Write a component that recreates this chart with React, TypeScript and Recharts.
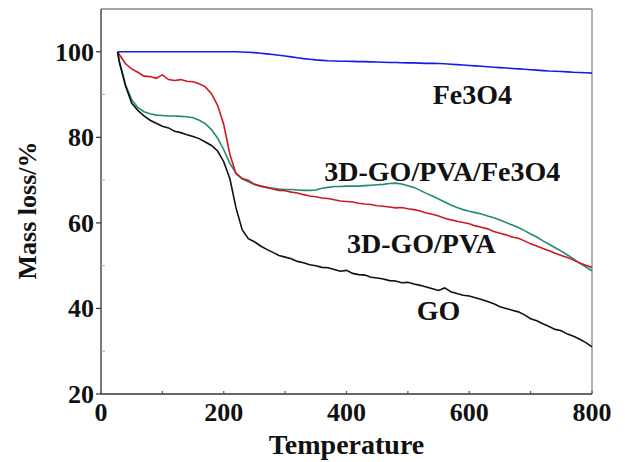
import { LineChart, Line, XAxis, YAxis, ReferenceLine, ReferenceDot } from 'recharts';

// temperature grid (°C), shared by all four TGA curves
const temps = [
  27, 30, 40, 50, 60, 70, 80, 90, 100, 110,
  120, 130, 140, 150, 160, 170, 180, 190, 200, 210,
  220, 230, 240, 250, 260, 270, 280, 290, 300, 310,
  320, 330, 340, 350, 360, 370, 380, 390, 400, 410,
  420, 430, 440, 450, 460, 470, 480, 490, 500, 510,
  520, 530, 540, 550, 560, 570, 580, 590, 600, 610,
  620, 630, 640, 650, 660, 670, 680, 690, 700, 710,
  720, 730, 740, 750, 760, 770, 780, 790, 800,
];

const go = [
  100, 97.5, 92, 88, 86.3, 85, 84, 83.3, 82.6, 82.2,
  81.4, 81.1, 80.6, 80.2, 79.7, 78.9, 78.1, 76.8, 74.3, 70.3,
  63.5, 58.4, 56.3, 55.6, 54.6, 53.8, 53.1, 52.4, 52.0, 51.6,
  51.0, 50.7, 50.2, 50.0, 49.6, 49.5, 49.1, 48.7, 48.9, 48.2,
  47.9, 47.8, 47.3, 47.1, 46.9, 46.5, 46.4, 46.0, 46.1, 45.7,
  45.4, 45.0, 44.6, 44.2, 44.8, 43.9, 43.5, 43.1, 42.9, 42.5,
  42.1, 41.6, 41.1, 40.4, 40.0, 39.6, 39.2, 38.5, 37.6, 37.1,
  36.4, 35.8, 35.1, 34.8, 34.0, 33.5, 32.8, 32.0, 31.0,
];

const goPva = [
  100, 99.3, 97.2, 96, 95.2, 94.3, 94.2, 93.8, 94.6, 93.5,
  93.3, 93.5, 93.1, 93.0, 92.5, 91.8, 90.2, 87.5, 83.0, 76.0,
  71.5, 70.4, 70.0, 69.0, 68.6, 68.3, 67.9, 67.6, 67.5, 67.2,
  67.0, 66.6, 66.3, 66.1, 65.8, 65.7, 65.4, 65.1, 65.0, 64.9,
  64.6, 64.4, 64.3, 64.0, 63.9, 63.7, 63.5, 63.6, 63.3, 63.1,
  62.8, 62.3, 62.0, 61.6, 61.1, 60.7, 60.4, 60.1, 59.8, 59.3,
  59.0, 58.6, 58.0, 57.6, 57.2, 56.7, 56.4, 55.8, 55.1, 54.6,
  54.0, 53.5, 52.9, 52.4, 51.9, 51.3, 50.6, 50.1, 49.6,
];

const goPvaFe = [
  100, 97.8, 92.3, 88.8, 87.0, 86.0, 85.5, 85.2, 85.1, 85.0,
  85.0, 84.9, 84.8, 84.6, 84.0, 83.2, 81.8, 79.8, 77.1, 73.9,
  71.6, 70.3, 69.6, 69.0, 68.6, 68.3, 68.1, 67.9, 67.8, 67.8,
  67.7, 67.6, 67.6, 67.7, 68.1, 68.3, 68.5, 68.5, 68.6, 68.6,
  68.6, 68.7, 68.8, 68.9, 69.0, 69.2, 69.3, 69.1, 68.7, 68.3,
  67.6, 66.9, 66.3, 65.6, 64.9, 64.2, 63.6, 63.1, 62.7, 62.4,
  62.1, 61.6, 61.2, 60.7, 60.1, 59.5, 58.9, 58.2, 57.4, 56.7,
  55.8, 55.0, 54.2, 53.4, 52.5, 51.6, 50.6, 49.7, 48.8,
];

const fe3o4 = [
  100, 100, 100, 100, 100, 100, 100, 100, 100, 100,
  100, 100, 100, 100, 100, 100, 100, 100, 100, 100,
  100, 99.95, 99.9, 99.8, 99.65, 99.5, 99.35, 99.2, 99.0, 98.8,
  98.6, 98.4, 98.25, 98.1, 98.0, 97.9, 97.85, 97.8, 97.8, 97.75,
  97.7, 97.7, 97.65, 97.6, 97.55, 97.5, 97.5, 97.45, 97.4, 97.4,
  97.35, 97.3, 97.3, 97.25, 97.2, 97.1, 97.0, 96.9, 96.8, 96.7,
  96.6, 96.5, 96.4, 96.3, 96.2, 96.1, 96.0, 95.9, 95.8, 95.7,
  95.6, 95.5, 95.45, 95.4, 95.3, 95.2, 95.15, 95.1, 95.0,
];

const xTicks = [0, 100, 200, 300, 400, 500, 600, 700, 800];
const yTicks = [20, 30, 40, 50, 60, 70, 80, 90, 100];

// curve labels: [text, temperature, mass]
const curveLabels: [string, number, number][] = [
  ['Fe3O4', 605, 90.2],
  ['3D-GO/PVA/Fe3O4', 556, 72.0],
  ['3D-GO/PVA', 522, 55.3],
  ['GO', 550, 39.7],
];

const data = temps.map((t, i) => ({
  t,
  go: go[i],
  goPva: goPva[i],
  goPvaFe: goPvaFe[i],
  fe3o4: fe3o4[i],
}));

const FONT = "'Liberation Serif', 'Times New Roman', Tinos, 'DejaVu Serif', serif";
const fontProps = { fontFamily: FONT, fontWeight: 700, fontSize: 26, fill: '#111' };
const bigFont = { ...fontProps, fontSize: 28 };

function YTick(props: any) {
  const { x, y, payload } = props;
  const major = payload.value % 20 === 0;
  if (!major) {
    return <line x1={x} x2={x + 4} y1={y} y2={y} stroke="#aaa" strokeWidth={1} />;
  }
  return (
    <g>
      <line x1={x - 5} x2={x} y1={y} y2={y} stroke="#333" strokeWidth={1.2} />
      <text x={x - 7} y={y + 9} textAnchor="end" {...fontProps}>
        {payload.value}
      </text>
    </g>
  );
}

function XTick(props: any) {
  const { x, y, payload } = props;
  const major = payload.value % 200 === 0;
  return (
    <g>
      <line x1={x} x2={x} y1={y} y2={y - 3} stroke="#555" strokeWidth={1.2} />
      {major && (
        <text x={x} y={y + 27} textAnchor="middle" {...fontProps}>
          {payload.value}
        </text>
      )}
    </g>
  );
}

function YTitle(props: any) {
  const { viewBox } = props;
  const cx = viewBox.x + 27;
  const cy = viewBox.y + viewBox.height / 2 + 9;
  return (
    <text
      x={cx}
      y={cy}
      transform={`rotate(-90 ${cx} ${cy})`}
      textAnchor="middle"
      dominantBaseline="central"
      {...fontProps}
    >
      Mass loss/%
    </text>
  );
}

function XTitle(props: any) {
  const { viewBox } = props;
  return (
    <text x={viewBox.x + viewBox.width / 2} y={viewBox.y + 60} textAnchor="middle" {...bigFont}>
      Temperature
    </text>
  );
}

export default function App() {
  return (
    <div style={{ position: 'absolute', left: 0, top: 0, background: '#fff', fontFamily: FONT }}>
      <LineChart width={625} height={462} data={data} margin={{ top: 9, right: 33, left: 0, bottom: 0 }}>
        <XAxis
          dataKey="t"
          type="number"
          domain={[0, 800]}
          ticks={xTicks}
          interval={0}
          tick={<XTick />}
          tickLine={false}
          tickSize={0}
          tickMargin={0}
          height={68}
          axisLine={{ stroke: '#333', strokeWidth: 1.3 }}
          label={<XTitle />}
        />
        <YAxis
          type="number"
          domain={[20, 110]}
          ticks={yTicks}
          interval={0}
          tick={<YTick />}
          tickLine={false}
          tickSize={0}
          tickMargin={0}
          width={101}
          axisLine={{ stroke: '#333', strokeWidth: 1.3 }}
          label={<YTitle />}
        />
        <ReferenceLine y={110} stroke="#888" strokeWidth={1.3} />
        <ReferenceLine x={800} stroke="#888" strokeWidth={1.3} />
        <Line dataKey="fe3o4" stroke="#1a1ae8" strokeWidth={1.6} dot={false} isAnimationActive={false} />
        <Line dataKey="goPvaFe" stroke="#238a72" strokeWidth={1.6} dot={false} isAnimationActive={false} />
        <Line dataKey="goPva" stroke="#cc1a1f" strokeWidth={1.6} dot={false} isAnimationActive={false} />
        <Line dataKey="go" stroke="#111" strokeWidth={1.6} dot={false} isAnimationActive={false} />
        {curveLabels.map(([text, t, m]) => (
          <ReferenceDot
            key={text}
            x={t}
            y={m}
            r={0}
            stroke="none"
            fill="none"
            label={{ value: text, position: 'center', ...bigFont }}
          />
        ))}
      </LineChart>
    </div>
  );
}
